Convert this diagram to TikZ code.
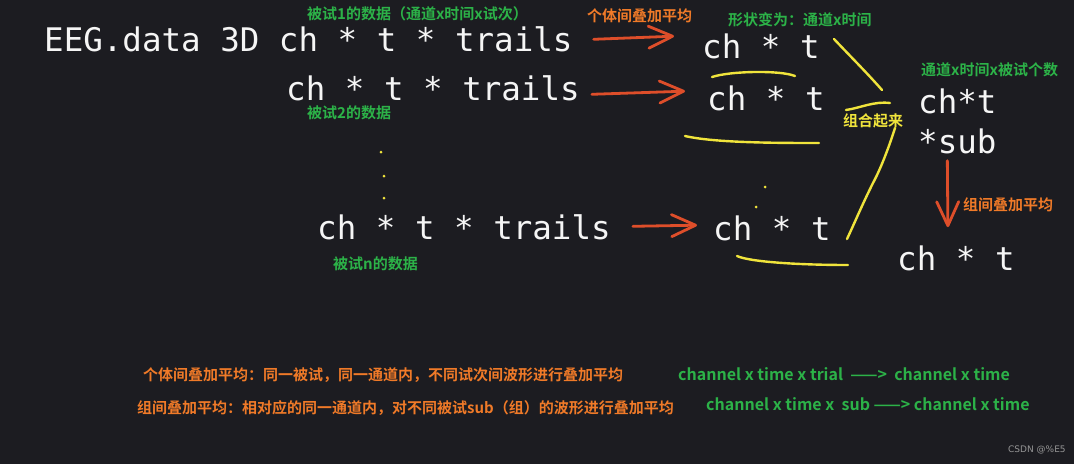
\documentclass[tikz,border=0pt]{standalone}
\usepackage{fontspec}
\newfontfamily\monof{DejaVu Sans Mono}
\newfontfamily\cjkf{Noto Sans CJK SC}[BoldFont={Noto Sans CJK SC Bold}]
\usetikzlibrary{arrows.meta,calc}
\definecolor{bgc}{RGB}{28,28,33}
\definecolor{wht}{RGB}{245,245,245}
\definecolor{grn}{RGB}{44,178,72}
\definecolor{org}{RGB}{240,122,40}
\definecolor{arw}{RGB}{222,78,42}
\definecolor{ylw}{RGB}{240,228,60}
\definecolor{wm}{RGB}{150,150,150}
\tikzset{
  big/.style={inner sep=0pt, anchor=base west, text=wht, font=\monof\fontsize{32.5}{36}\selectfont},
  glab/.style={inner sep=0pt, anchor=west, text=grn, font=\cjkf\bfseries\fontsize{15}{17}\selectfont},
  olab/.style={inner sep=0pt, anchor=west, text=org, font=\cjkf\bfseries\fontsize{15}{17}\selectfont},
  ylab/.style={inner sep=0pt, anchor=west, text=ylw, font=\cjkf\bfseries\fontsize{15}{17}\selectfont},
  elab/.style={inner sep=0pt, anchor=west, text=grn, font=\cjkf\bfseries\fontsize{16}{18}\selectfont},
  arr/.style={draw=arw, line width=2.8pt, line cap=round, -{Straight Barb[length=24pt,width=22pt,line width=2.8pt,round]}},
  ypen/.style={draw=ylw, line width=2.4pt, line cap=round},
  ydot/.style={fill=ylw, circle, inner sep=0pt, minimum size=3pt}
}
\begin{document}
\begin{tikzpicture}[x=1pt,y=-1pt]
\fill[bgc] (0,0) rectangle (1074,464);
\useasboundingbox (0,0) rectangle (1074,464);

% top labels
\node[glab] (l1) at (307,14) {被试1的数据（通道x时间x试次）};
\node[olab] (l2) at (587,16) {个体间叠加平均};
\node[glab] (l3) at (728,20) {形状变为：通道x时间};
\node[glab] (l4) at (921,70) {通道x时间x被试个数};
\node[glab] (l5) at (307,113) {被试2的数据};
\node[glab] (l6) at (333,264) {被试n的数据};
\node[ylab] (l7) at (843,121) {组合起来};
\node[olab] (l8) at (963,205) {组间叠加平均};

% big texts
\node[big] (r1) at (44,51) {EEG.data 3D ch * t * trails};
\node[big] (r2) at (286,100) {ch * t * trails};
\node[big] (r3) at (317,239) {ch * t * trails};
\node[big] (c1) at (702,58) {ch * t};
\node[big] (c2) at (707,110) {ch * t};
\node[big] (c3) at (713,240) {ch * t};
\node[big] (comb) at (918,113) {ch*t};
\node[big] (sub) at (918,153) {*sub};
\node[big] (fin) at (897,270) {ch * t};

% arrows
\draw[arr] ($(r1.east)+(21,0.5)$) -- ($(c1.west)+(-28,-9.7)$);
\draw[arr] ($(r2.east)+(12,6.5)$) -- ($(c2.west)+(-22,-6.7)$);
\draw[arr] ($(r3.east)+(22,-0.5)$) -- ($(c3.west)+(-16,-2.7)$);
\draw[arr] ($(sub.south)+(-10,7)$) -- ($(fin.north)+(-8,-18)$);

% dots
\node[ydot] (d1) at (381,152) {};
\node[ydot] (d2) at (384,176) {};
\node[ydot] (d3) at (384,198) {};
\node[ydot] (d4) at (765,187) {};
\node[ydot] (d5) at (756,207) {};

% yellow pen strokes
\draw[ypen] (712,77) .. controls (730,71) and (780,70) .. (795,76);
\draw[ypen] (834,39) .. controls (852,58) and (868,74) .. (882,90);
\draw[ypen] (846,110) .. controls (860,108) and (874,101) .. (890,103);
\draw[ypen] (685,136) .. controls (715,143) and (780,143) .. (819,143);
\draw[ypen] (895,128) .. controls (888,150) and (880,170) .. (873,183) .. controls (862,205) and (855,222) .. (847,239);
\draw[ypen] (737,256) .. controls (750,262) and (800,265) .. (848,265);

% bottom notes
\node[olab] (n1) at (143,375) {个体间叠加平均：同一被试，同一通道内，不同试次间波形进行叠加平均};
\node[olab] (n2) at (137,408) {组间叠加平均：相对应的同一通道内，对不同被试sub（组）的波形进行叠加平均};
\node[elab] (e1) at (678,374) {channel x time x trial \ ——>\ \ channel x time};
\node[elab] (e2) at (706,404) {channel x time x \ sub ——> channel x time};
\node[inner sep=0pt, anchor=west, text=wm, font=\fontspec{DejaVu Sans}\fontsize{9}{10}\selectfont] (wmk) at (1008,450) {CSDN @\%E5};
\end{tikzpicture}
\end{document}
